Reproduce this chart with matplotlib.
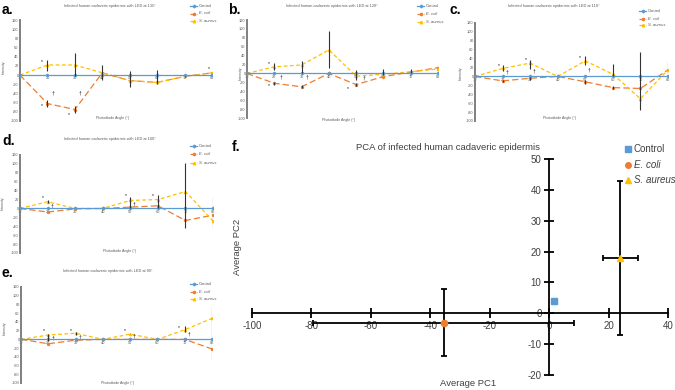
import matplotlib
matplotlib.use("Agg")
import matplotlib.pyplot as plt
from matplotlib.lines import Line2D

plt.rcParams['font.family'] = ['Liberation Sans', 'DejaVu Sans']
plt.rcParams['axes.unicode_minus'] = False

# данні
angles = [10, 20, 30, 40, 50, 60, 70, 80]
control = [0, 0, 0, 0, 0, 0, 0, 0]

# a. LED 135°
a_saureus = [0, 22, 22, 5, -12, -16, -3, 5]
a_sa_lo = [0, 12, 25, 15, 13, 3, 2, 3]
a_sa_hi = [0, 11, 26, 17, 20, 28, 2, 5]
a_ecoli = [0, -62, -75, 5, -12, -16, -3, 5]
a_ec_err = [0, 7, 7, 0, 0, 0, 0, 0]
a_mark_x = [18, 18, 22, 28, 32, 79]
a_mark_y = [30, -67, -40, -85, -40, 15]
a_mark_s = ['*', '*', '†', '*', '†', '*']

# b. LED 120°
b_saureus = [0, 15, 19, 53, -6, -2, 4, 10]
b_sa_lo = [0, 8, 19, 41, 8, 2, 3, 2]
b_sa_hi = [0, 8, 8, 42, 14, 13, 5, 8]
b_ecoli = [0, -22, -30, 0, -25, -7, 3, 13]
b_ec_err = [0, 3, 3, 0, 3, 0, 0, 0]
b_mark_x = [18, 18, 22.5, 32, 47, 53]
b_mark_y = [22, -28, -8, -8, -33, -11]
b_mark_s = ['*', '*', '†', '†', '*', '†']

# c. LED 110°
c_saureus = [0, 18, 30, 0, 35, 5, -50, 15]
c_sa_lo = [0, 5, 13, 0, 10, 5, 26, 15]
c_sa_hi = [0, 7, 6, 0, 12, 23, 104, 19]
c_ecoli = [0, -10, -4, 0, -12, -25, -27, 15]
c_ec_err = [0, 3, 3, 0, 4, 3, 0, 0]
c_mark_x = [18.5, 21.6, 28.4, 31.5, 48, 51.4]
c_mark_y = [25, 10, 37, 13, 42, 15]
c_mark_s = ['*', '†', '*', '†', '*', '†']

# d. LED 100°
d_saureus = [0, 15, 0, 0, 18, 20, 38, -28]
d_sa_lo = [0, 3, 0, 0, 18, 20, 81, 15]
d_sa_hi = [0, 3, 0, 0, 8, 10, 63, 53]
d_ecoli = [0, -8, -1, 0, 3, 6, -27, -15]
d_ec_err = [0, 0, 0, 0, 0, 0, 0, 0]
d_mark_x = [18.2, 21.5, 48.4, 51.5, 58.3]
d_mark_y = [25, 6, 28, 11, 30]
d_mark_s = ['*', '†', '*', '†', '*']

# e. LED 90°
e_saureus = [0, 10, 14, 0, 12, 0, 22, 48]
e_sa_lo = [0, 14, 3, 0, 0, 0, 4, 93]
e_sa_hi = [0, 2, 3, 0, 0, 0, 9, 27]
e_ecoli = [0, -10, -2, 0, 0, 0, 0, -22]
e_ec_err = [0, 0, 0, 0, 0, 0, 0, 0]
e_mark_x = [18.3, 21.6, 28.4, 31.7, 48, 51.5, 67.8, 71.5]
e_mark_y = [21, 2, 21, 6, 21, 7, 28, 12]
e_mark_s = ['*', '†', '*', '†', '*', '†', '*', '†']

# f. PCA
pca_names = ['Control', 'E. coli', 'S. aureus']
pc1 = [1.5, -35.5, 24]
pc2 = [4, -3, 18]
pc1_err = [0, 44, 6]
pc2_err = [0, 11, 25]

BLUE = '#5B9BD5'
ORANGE = '#ED7D31'
YELLOW = '#FFC000'
GREY = '#595959'

W, H = 675, 390
fig = plt.figure(figsize=(W / 100, H / 100), dpi=100)


def rect(l, t, r, b):
    return [l / W, 1 - b / H, (r - l) / W, (b - t) / H]


def ftext(x, y, s, **kw):
    fig.text(x / W, 1 - y / H, s, **kw)


def fline(xs, ys, **kw):
    fig.add_artist(Line2D([x / W for x in xs], [1 - y / H for y in ys],
                          transform=fig.transFigure, **kw))


def line_panel(box, sa, sa_lo, sa_hi, ec, ec_err, mx, my, ms):
    ax = fig.add_axes(rect(*box))
    ax.patch.set_alpha(0)
    ax.set_xlim(10, 80)
    ax.set_ylim(-100, 120)
    ax.plot(angles, ec, color=ORANGE, lw=0.9, dashes=(5, 2.5),
            marker='o', ms=1.4, zorder=3)
    ax.plot(angles, sa, color=YELLOW, lw=0.9, dashes=(3, 2),
            marker='^', ms=1.6, zorder=3)
    ax.plot(angles, control, color=BLUE, lw=0.9, marker='D', ms=1.3, zorder=4)
    ax.errorbar(angles, sa, yerr=[sa_lo, sa_hi], fmt='none', ecolor='#333333',
                elinewidth=0.8, zorder=5)
    ax.errorbar(angles, ec, yerr=ec_err, fmt='none', ecolor='#333333',
                elinewidth=0.8, zorder=5)
    for x, y, s in zip(mx, my, ms):
        ax.text(x, y, s, fontsize=3.6, ha='center', va='center', color='#111111')
    for side in ['top', 'right']:
        ax.spines[side].set_visible(False)
    ax.spines['left'].set_position(('data', 10))
    ax.spines['left'].set_color('#7f7f7f')
    ax.spines['left'].set_linewidth(1.4)
    ax.spines['bottom'].set_position(('data', 0))
    ax.spines['bottom'].set_color('#bfbfbf')
    ax.spines['bottom'].set_linewidth(0.6)
    ax.set_xticks(angles)
    ax.set_yticks(range(-100, 121, 20))
    ax.tick_params(length=0, labelsize=2.8, colors=GREY, pad=1)
    return ax


def small_legend(x0, ys):
    styles = [(BLUE, '-', 'D', 1.4), (ORANGE, '--', 'o', 1.6), (YELLOW, '--', '^', 1.8)]
    names = ['Control', 'E. coli', 'S. aureus']
    for y, (c, ls, m, s), name in zip(ys, styles, names):
        fline([x0, x0 + 7], [y, y], color=c, lw=0.9, ls=ls)
        fline([x0 + 3.5], [y], color=c, marker=m, ms=s, ls='none')
        ftext(x0 + 9, y, name, fontsize=3, color=GREY, va='center',
              style='normal' if name == 'Control' else 'italic')


panels = [
    ((20, 20, 212, 121), a_saureus, a_sa_lo, a_sa_hi, a_ecoli, a_ec_err,
     a_mark_x, a_mark_y, a_mark_s, '135'),
    ((247, 20, 438, 118), b_saureus, b_sa_lo, b_sa_hi, b_ecoli, b_ec_err,
     b_mark_x, b_mark_y, b_mark_s, '120'),
    ((475, 23, 668, 121), c_saureus, c_sa_lo, c_sa_hi, c_ecoli, c_ec_err,
     c_mark_x, c_mark_y, c_mark_s, '110'),
    ((20, 155, 213, 253), d_saureus, d_sa_lo, d_sa_hi, d_ecoli, d_ec_err,
     d_mark_x, d_mark_y, d_mark_s, '100'),
    ((21, 287, 212, 383), e_saureus, e_sa_lo, e_sa_hi, e_ecoli, e_ec_err,
     e_mark_x, e_mark_y, e_mark_s, '90'),
]
title_pos = [(110, 6), (332, 6), (554, 6), (110, 139), (108, 271)]
xlab_pos = [(113, 118), (339, 120), (560, 118), (120, 251), (118, 383)]
ylab_pos = [(4, 67), (241, 73), (461, 73), (3, 203), (5, 328)]
legend_pos = [(190, [6, 13.5, 21]), (417, [6, 14, 22]), (639, [11, 18.5, 25]),
              (190, [146, 154, 163]), (190, [284, 292, 299])]
letters = ['a.', 'b.', 'c.', 'd.', 'e.']
letter_pos = [(2, 10), (228, 10), (450, 10), (2, 141), (2, 273)]

for i, p in enumerate(panels):
    line_panel(*p[:9])
    ftext(*title_pos[i], 'Infected human cadaveric epidermis with LED at ' + p[9] + '°',
          fontsize=2.8, color=GREY, ha='center', va='center')
    ftext(*xlab_pos[i], 'Photodiode Angle (°)', fontsize=2.6, color=GREY,
          ha='center', va='center')
    ftext(*ylab_pos[i], 'Intensity', fontsize=2.6, color=GREY, ha='center',
          va='center', rotation=90)
    small_legend(*legend_pos[i])
    ftext(*letter_pos[i], letters[i], fontsize=10, fontweight='bold',
          ha='left', va='center')

# f. PCA
axf = fig.add_axes(rect(252, 159, 668, 375))
axf.patch.set_alpha(0)
axf.set_xlim(-100, 40)
axf.set_ylim(-20, 50)
axf.errorbar(pc1, pc2, xerr=pc1_err, yerr=pc2_err, fmt='none', ecolor='black',
             elinewidth=1.3, capsize=2, capthick=1.3, zorder=3)
f_colors = [BLUE, ORANGE, YELLOW]
f_markers = ['s', 'o', '^']
for x, y, c, m in zip(pc1, pc2, f_colors, f_markers):
    axf.plot(x, y, marker=m, color=c, ms=4.5, ls='none', zorder=4)
for side in ['top', 'right']:
    axf.spines[side].set_visible(False)
for side in ['left', 'bottom']:
    axf.spines[side].set_position(('data', 0))
    axf.spines[side].set_linewidth(1.3)
axf.set_xticks(range(-100, 41, 20))
axf.set_yticks(range(-20, 51, 10))
axf.tick_params(direction='inout', length=7, width=1.3, labelsize=7,
                labelcolor='#404040', pad=2)

ftext(448, 147, 'PCA of infected human cadaveric epidermis', fontsize=6.8,
      color='#404040', ha='center', va='center')
ftext(468, 384, 'Average PC1', fontsize=6.8, color='#404040', ha='center', va='center')
ftext(237, 247, 'Average PC2', fontsize=6.8, color='#404040', ha='center',
      va='center', rotation=90)
ftext(232, 147, 'f.', fontsize=10, fontweight='bold', ha='left', va='center')

for y, c, m, name in zip([149, 165, 180], f_colors, f_markers, pca_names):
    fline([628], [y], marker=m, color=c, ms=4, ls='none')
    ftext(634, y, name, fontsize=7, color='#404040', va='center',
          style='normal' if name == 'Control' else 'italic')

fig.savefig('out.png', dpi=100)
